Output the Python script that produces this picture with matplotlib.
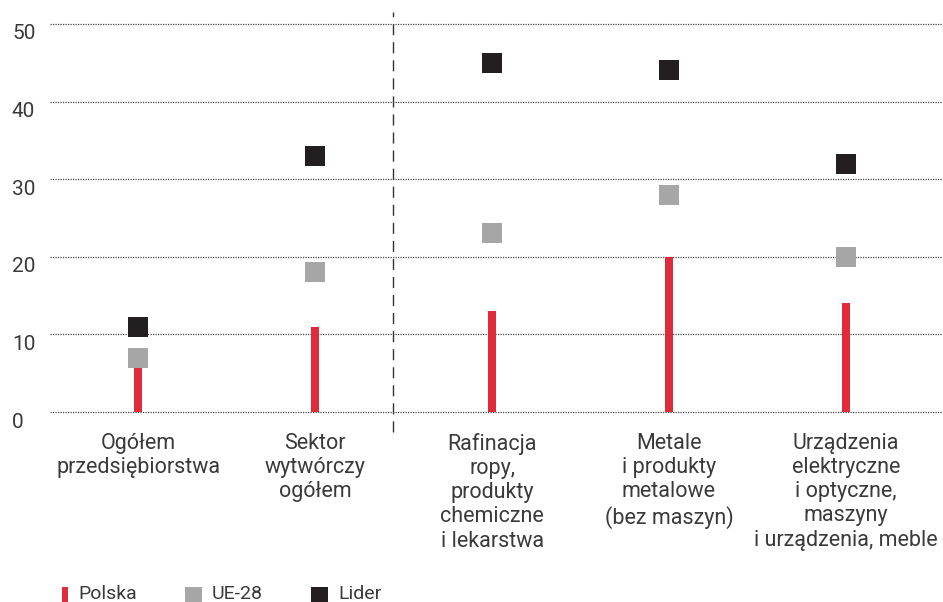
import matplotlib
matplotlib.use("Agg")
import matplotlib.pyplot as plt
from matplotlib.patches import Rectangle
from matplotlib.transforms import ScaledTranslation

plt.rcParams['font.family'] = ['Roboto', 'DejaVu Sans']

# data
categories = [
    "Ogółem\nprzedsiębiorstwa",
    "Sektor\nwytwórczy\nogółem",
    "Rafinacja\nropy,\nprodukty\nchemiczne\ni lekarstwa",
    "Metale\ni produkty\nmetalowe\n(bez maszyn)",
    "Urządzenia\nelektryczne\ni optyczne,\nmaszyny\ni urządzenia, meble",
]
polska = [6, 11, 13, 20, 14]
ue28 = [7, 18, 23, 28, 20]
lider = [11, 33, 45, 44, 32]
yticks = [0, 10, 20, 30, 40, 50]
series_names = ["Polska", "UE-28", "Lider"]

RED = "#e02b3a"
GREY = "#a6a6a6"
BLACK = "#231f20"
TEXT = "#3a3a3a"

W, H = 943, 602
fig = plt.figure(figsize=(W / 100, H / 100), dpi=100)
ax = fig.add_axes([50 / W, 1 - 412 / H, 893 / W, 392 / H])

x = list(range(len(categories)))

# Polska as thin bars, UE-28 and leader as square markers
ax.bar(x, polska, width=0.045, color=RED, zorder=3)
ax.scatter(x, ue28, marker="s", s=190, color=GREY, zorder=4, linewidths=0)
ax.scatter(x, lider, marker="s", s=190, color=BLACK, zorder=5, linewidths=0)

ax.set_xlim(-0.5, 4.55)
ax.set_ylim(0, 50.5)

for t in yticks:
    ax.axhline(t, color="#444444", lw=0.9, ls=(0, (1, 1)), zorder=1, clip_on=False)

# separator between total and sectors
ax.plot([1.44, 1.44], [-2.6, 51.5], color="#333333", lw=1.0,
        ls=(0, (8, 5)), clip_on=False, zorder=2)

ax.set_yticks(yticks)
ax.set_yticklabels([str(t) for t in yticks], fontsize=15, color=TEXT)
ax.tick_params(axis="y", length=0, pad=0)
shift = ScaledTranslation(-38 / 100, -8 / 100, fig.dpi_scale_trans)
for lab in ax.get_yticklabels():
    lab.set_horizontalalignment("left")
    lab.set_transform(lab.get_transform() + shift)

ax.set_xticks(x)
ax.set_xticklabels(categories, fontsize=15.5, color=TEXT, linespacing=1.2)
ax.tick_params(axis="x", length=0, pad=15)

for s in ax.spines.values():
    s.set_visible(False)

# legend drawn by hand at the bottom (pixel positions from the reference)
legend_keys = [
    (62, 6, RED),
    (185, 17, GREY),
    (311, 17, BLACK),
]
for (px, pw, col), name in zip(legend_keys, series_names):
    fig.add_artist(Rectangle((px / W, 1 - 602 / H), pw / W, 15 / H,
                             transform=fig.transFigure, color=col, lw=0))
    fig.text((px + pw + 10) / W, 1 - 594 / H, name, fontsize=14,
             color=TEXT, va="center", ha="left")

fig.savefig("out.png", dpi=100)
